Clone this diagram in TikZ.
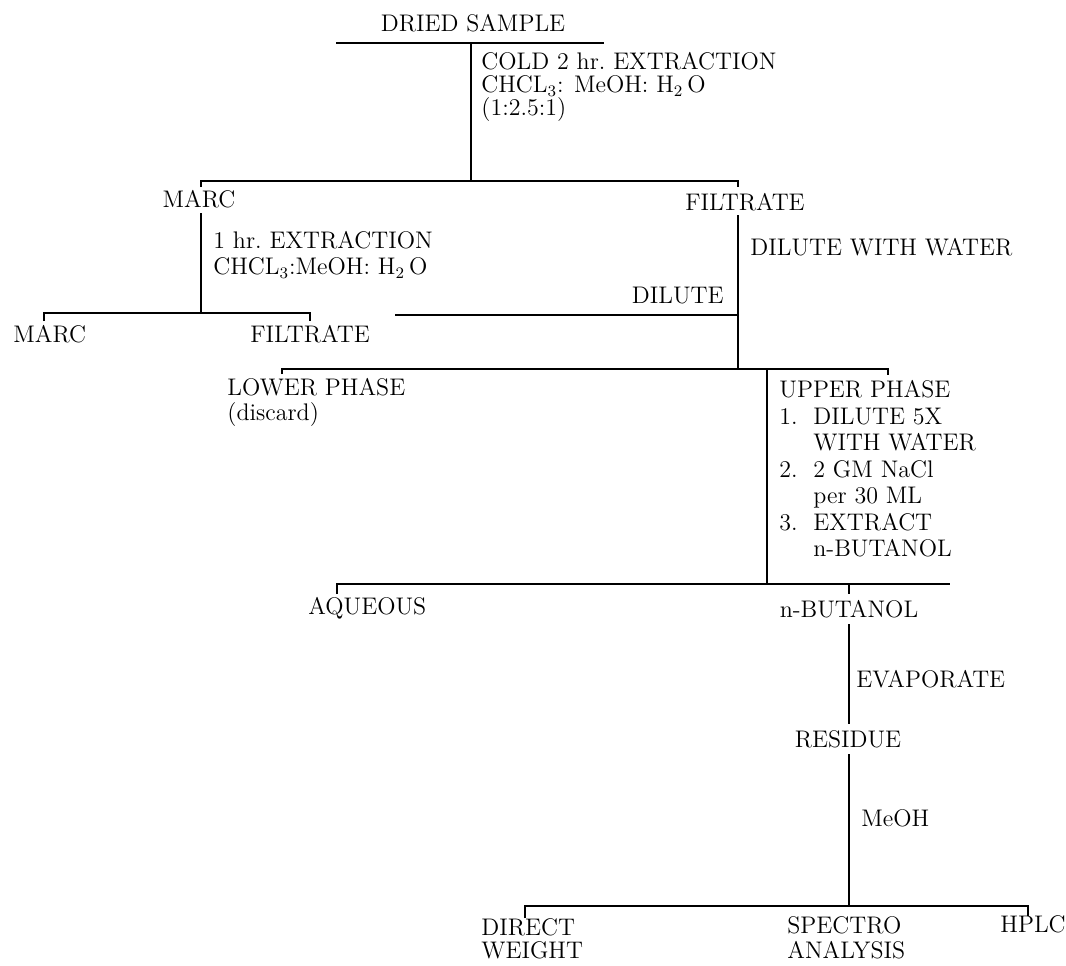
\documentclass[tikz,border=0pt]{standalone}
\usepackage{fontspec}
\usepackage{tikz}
\usetikzlibrary{calc}
\newcommand{\flowfont}[1][13]{\fontsize{12}{#1}\selectfont}

\begin{document}
\begin{tikzpicture}[
		x=0.5pt, y=-0.5pt,
		lbl/.style={inner sep=0pt, anchor=base west, font=\flowfont},
		blk/.style={inner sep=0pt, anchor=north west, align=left},
		tree/.style={line width=0.7pt}
	]
		\useasboundingbox (0,0) rectangle (1066,965);

		% ===== Dried sample, cold extraction =====
		\node[lbl, anchor=base] (sample) at (473,31) {DRIED SAMPLE};
		\coordinate (barW) at (336,43);
		\coordinate (barE) at (604,43);
		\coordinate (split1) at (471,181);
		\draw[tree] (barW) -- (barE);
		\draw[tree] (split1 |- barW) -- (split1);
		\node[blk, font={\flowfont[11.5]}] (cold) at (481,52)
			{COLD 2 hr.\ EXTRACTION\\CHCL\textsubscript{3}: MeOH: H\textsubscript{2}\,O\\(1:2.5:1)};

		% First split
		\coordinate (marcA1) at (201,181);
		\coordinate (filtA1) at (738,181);
		\draw[tree] ([yshift=-3pt]marcA1) -- (marcA1) -- (filtA1) -- ([yshift=-3pt]filtA1);
		\node[lbl, anchor=base] (marcA) at (199,207) {MARC};
		\node[lbl, anchor=base] (filtA) at (745,210) {FILTRATE};

		% ===== Left: marc re-extraction =====
		\coordinate (marcA2) at (201,213);
		\coordinate (split2) at (201,313);
		\draw[tree] (marcA2) -- (split2);
		\node[blk, font={\flowfont[13]}] (hrext) at (213,231)
			{1 hr.\ EXTRACTION\\CHCL\textsubscript{3}:MeOH: H\textsubscript{2}\,O};
		\coordinate (marcB1) at (44,313);
		\coordinate (filtB1) at (310,313);
		\draw[tree] ([yshift=-4pt]marcB1) -- (marcB1) -- (filtB1) -- ([yshift=-4pt]filtB1);
		\node[lbl] (marcB) at (13,342) {MARC};
		\node[lbl] (filtB) at (250,342) {FILTRATE};

		% ===== Right: filtrate dilution =====
		\coordinate (filtA2) at (738,215);
		\coordinate (split3) at (738,369);
		\coordinate (dilW) at (395,315);
		\draw[tree] (filtA2) -- (split3);
		\draw[tree] (dilW) -- (dilW -| split3);
		\node[lbl] (dww) at (750,255) {DILUTE WITH WATER};
		\node[lbl, anchor=base east] (dil) at (724,303) {DILUTE};

		% Phase split
		\coordinate (lower1) at (282,369);
		\coordinate (upper1) at (888,369);
		\draw[tree] ([yshift=-2.5pt]lower1) -- (lower1) -- (upper1) -- ([yshift=-3pt]upper1);
		\node[blk, font={\flowfont[12.5]}] (lower) at (227,378) {LOWER PHASE\\(discard)};
		\node[blk, font={\flowfont[13.25]}] (upper) at (779,380)
			{UPPER PHASE\\
			 \makebox[17pt][l]{1.}DILUTE 5X\\
			 \makebox[17pt][l]{}WITH WATER\\
			 \makebox[17pt][l]{2.}2 GM NaCl\\
			 \makebox[17pt][l]{}per 30 ML\\
			 \makebox[17pt][l]{3.}EXTRACT\\
			 \makebox[17pt][l]{}n-BUTANOL};
		\coordinate (upper2) at (767,369);
		\coordinate (split4) at (767,584);
		\draw[tree] (upper2) -- (split4);

		% ===== Butanol extraction =====
		\coordinate (aq1) at (337,584);
		\coordinate (but1) at (849,584);
		\coordinate (splitE) at (950,584);
		\draw[tree] ([yshift=-5pt]aq1) -- (aq1) -- (splitE);
		\draw[tree] (but1) -- ([yshift=-5pt]but1);
		\node[lbl] (aq) at (308,614) {AQUEOUS};
		\node[lbl, anchor=base] (nbut) at (849,617) {n-BUTANOL};

		% Evaporate -> residue -> MeOH
		\coordinate (but2) at (849,624);
		\coordinate (res1) at (849,724);
		\draw[tree] (but2) -- (res1);
		\node[lbl] (evap) at (856,687) {EVAPORATE};
		\node[lbl, anchor=base] (res) at (848,747) {RESIDUE};
		\coordinate (res2) at (849,754);
		\coordinate (split5) at (849,906);
		\draw[tree] (res2) -- (split5);
		\node[lbl] (meoh) at (861,826) {MeOH};

		% ===== Analysis =====
		\coordinate (dir1) at (525,906);
		\coordinate (hplc1) at (1028,906);
		\draw[tree] ([yshift=-6pt]dir1) -- (dir1) -- (hplc1) -- ([yshift=-5pt]hplc1);
		\node[blk, font={\flowfont[11.75]}] (direct) at (481,918) {DIRECT\\WEIGHT};
		\node[blk, font={\flowfont[12.5]}] (spectro) at (787,916) {SPECTRO\\ANALYSIS};
		\node[lbl] (hplc) at (1000,932) {HPLC};
	\end{tikzpicture}
\end{document}
